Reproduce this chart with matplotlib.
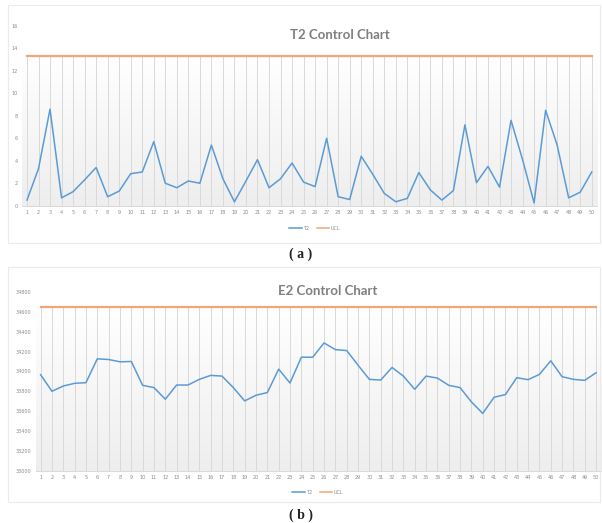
import matplotlib.pyplot as plt
import numpy as np
from matplotlib.colors import LinearSegmentedColormap
from matplotlib.lines import Line2D
from matplotlib.patches import Rectangle

W, H = 602, 523

samples = list(range(1, 51))

t2_values = [0.5, 3.3, 8.6, 0.7, 1.25, 2.3, 3.4, 0.8, 1.3, 2.85,
             3.0, 5.7, 2.0, 1.6, 2.2, 2.0, 5.4, 2.4, 0.35, 2.2,
             4.1, 1.6, 2.4, 3.8, 2.1, 1.7, 6.0, 0.8, 0.55, 4.4,
             2.8, 1.1, 0.35, 0.65, 2.95, 1.4, 0.5, 1.35, 7.2, 2.05,
             3.5, 1.65, 7.6, 4.1, 0.25, 8.5, 5.4, 0.7, 1.2, 3.0]
t2_ucl = 13.35
t2_ticks = [0, 2, 4, 6, 8, 10, 12, 14, 16]

e2_values = [33967, 33800, 33853, 33880, 33887, 34127, 34120, 34097, 34100, 33860,
             33837, 33720, 33863, 33863, 33920, 33960, 33953, 33837, 33703, 33760,
             33787, 34023, 33883, 34143, 34143, 34287, 34220, 34210, 34063, 33920,
             33913, 34040, 33953, 33820, 33953, 33933, 33860, 33837, 33693, 33577,
             33740, 33767, 33937, 33917, 33970, 34107, 33947, 33920, 33910, 33987]
e2_ucl = 34650
e2_ticks = [33000, 33200, 33400, 33600, 33800, 34000, 34200, 34400, 34600, 34800]

LINE_BLUE = "#5B9BD5"
LINE_ORANGE = "#F2A674"
GRID = "#D9D9D9"
TEXT_GRAY = "#7F7F7F"

bg_cmap = LinearSegmentedColormap.from_list("bg", ["#EEEEEE", "#FFFFFF"])


def px_rect(x0, y0, x1, y1):
    return [x0 / W, 1 - y1 / H, (x1 - x0) / W, (y1 - y0) / H]


def draw_panel(fig, rect, values, ucl, yticks, title, title_xy, legend_xy, series_name):
    ax = fig.add_axes(rect)
    ymin, ymax = yticks[0], yticks[-1]
    # gradient fill below the control limit
    ax.imshow(np.linspace(0, 1, 256).reshape(-1, 1), cmap=bg_cmap, aspect="auto",
              extent=[0.55, 50.45, ymin, ucl], zorder=0, origin="lower")
    ax.vlines(samples, ymin, ucl, color=GRID, lw=0.7, zorder=1)
    ax.plot(samples, values, color=LINE_BLUE, lw=1.1, zorder=3)
    ax.plot(samples, [ucl] * len(samples), color=LINE_ORANGE, lw=1.6, zorder=3)

    ax.set_xlim(0.55, 50.45)
    ax.set_ylim(ymin, ymax)
    ax.set_xticks(samples)
    ax.set_xticklabels([str(s) for s in samples])
    ax.set_yticks(yticks)
    ax.tick_params(length=0, labelsize=3.5, labelcolor="#8C8C8C", pad=3)
    for side in ["top", "right", "left"]:
        ax.spines[side].set_visible(False)
    ax.spines["bottom"].set_color(GRID)
    ax.spines["bottom"].set_linewidth(0.7)

    fig.text(title_xy[0] / W, 1 - title_xy[1] / H, title, ha="center", va="center",
             fontsize=9.5, fontweight="bold", color=TEXT_GRAY, family="Lato")

    handles = [Line2D([], [], color=LINE_BLUE, lw=1.1),
               Line2D([], [], color=LINE_ORANGE, lw=1.1)]
    fig.legend(handles, [series_name, "UCL"], loc="center",
               bbox_to_anchor=(legend_xy[0] / W, 1 - legend_xy[1] / H),
               ncol=2, frameon=False, fontsize=3.5, handlelength=2.5,
               columnspacing=1.5, handletextpad=0.4, labelcolor="#8C8C8C")
    return ax


fig = plt.figure(figsize=(W / 100, H / 100), dpi=100)

# chart area borders
for (x0, y0, x1, y1) in [(8, 5, 600, 243), (8, 267, 600, 502)]:
    fig.patches.append(Rectangle((x0 / W, 1 - y1 / H), (x1 - x0) / W, (y1 - y0) / H,
                                 transform=fig.transFigure, fill=False,
                                 edgecolor="#EBEBEB", lw=0.8))

draw_panel(fig, px_rect(21.8, 26, 596.9, 205.7), t2_values, t2_ucl, t2_ticks,
           "T2 Control Chart", (340, 35), (315, 228), "T2")
draw_panel(fig, px_rect(35.5, 292, 601.2, 470.7), e2_values, e2_ucl, e2_ticks,
           "E2 Control Chart", (328, 291), (318, 492), "T2")

fig.text(301 / W, 1 - 254 / H, "( a )", ha="center", va="center", fontsize=10,
         family="Liberation Serif", fontweight="bold", color="#222222")
fig.text(301 / W, 1 - 515 / H, "( b )", ha="center", va="center", fontsize=10,
         family="Liberation Serif", fontweight="bold", color="#222222")

fig.savefig("out.png", dpi=100)
